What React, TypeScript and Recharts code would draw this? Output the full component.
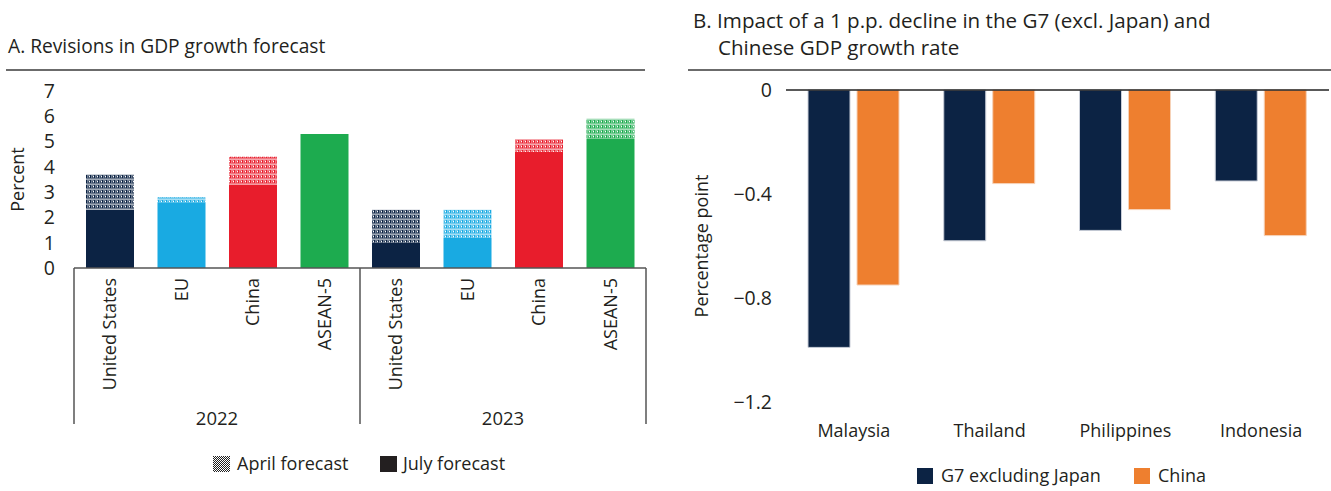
import React from 'react';
import { BarChart, Bar, XAxis, YAxis, Cell, ReferenceLine } from 'recharts';

const FONT = '"Open Sans", "DejaVu Sans", sans-serif';
const TEXT = '#231f20';

// Panel A data
const regionsA = ['United States', 'EU', 'China', 'ASEAN-5', 'United States', 'EU', 'China', 'ASEAN-5'];
const yearsA = ['2022', '2022', '2022', '2022', '2023', '2023', '2023', '2023'];
const julyForecast = [2.3, 2.6, 3.3, 5.3, 1.0, 1.2, 4.6, 5.1];
const aprilForecast = [3.7, 2.8, 4.4, 5.3, 2.3, 2.3, 5.1, 5.9];
const yTicksA = [0, 1, 2, 3, 4, 5, 6, 7];

// Panel B data
const countriesB = ['Malaysia', 'Thailand', 'Philippines', 'Indonesia'];
const g7Impact = [-0.99, -0.58, -0.54, -0.35];
const chinaImpact = [-0.75, -0.36, -0.46, -0.56];
const yTicksB = [0, -0.4, -0.8, -1.2];

const regionColor: Record<string, string> = {
  'United States': '#0c2344',
  EU: '#19aae2',
  China: '#e81d2c',
  'ASEAN-5': '#1dab4f',
};
const regionKey: Record<string, string> = {
  'United States': 'us',
  EU: 'eu',
  China: 'cn',
  'ASEAN-5': 'as',
};

const dataA = regionsA.map((r, i) => ({
  region: r,
  year: yearsA[i],
  july: julyForecast[i],
  revision: Math.round((aprilForecast[i] - julyForecast[i]) * 100) / 100,
}));

const dataB = countriesB.map((c, i) => ({ country: c, g7: g7Impact[i], china: chinaImpact[i] }));

const A_LEFT = 74;
const A_RIGHT = 646;
const BAND_A = (A_RIGHT - A_LEFT) / dataA.length;

function CatTick(props: any) {
  const { x, y, payload, index } = props;
  const ty = y + 10;
  return (
    <g>
      <text
        x={x}
        y={ty}
        transform={`rotate(-90, ${x}, ${ty})`}
        textAnchor="end"
        dy="0.36em"
        fontSize={18}
        fill={TEXT}
        fontFamily={FONT}
      >
        {payload.value}
      </text>
      {index % 4 === 0 && (
        <line x1={x - BAND_A / 2} x2={x - BAND_A / 2} y1={y} y2={y + 156} stroke="#555" strokeWidth={1.5} />
      )}
      {index === dataA.length - 1 && (
        <line x1={x + BAND_A / 2} x2={x + BAND_A / 2} y1={y} y2={y + 156} stroke="#555" strokeWidth={1.5} />
      )}
    </g>
  );
}

function YearTick(props: any) {
  const { x, y, payload, index } = props;
  if (index % 4 !== 1) return <g />;
  return (
    <text x={x + BAND_A / 2} y={y + 17} textAnchor="middle" fontSize={18.5} fill={TEXT} fontFamily={FONT}>
      {payload.value}
    </text>
  );
}

const fmtB = (v: number) => (v === 0 ? '0' : String(v).replace('-', '\u2212'));

function PatternDefs() {
  const items = Object.keys(regionColor).map((r) => {
    const c = regionColor[r];
    return (
      <pattern key={r} id={`pat-${regionKey[r]}`} width="4" height="5" patternUnits="userSpaceOnUse">
        <rect width="4" height="5" fill="#fff" />
        <rect width="4" height="5" fill={c} fillOpacity={0.6} />
        <rect x="2" y="0" width="1" height="3" fill={c} />
        <rect x="0" y="1" width="1" height="2" fill={c} fillOpacity={0.5} />
        <rect x="1" y="1" width="1" height="1" fill="#fff" />
        <rect x="0" y="4" width="4" height="1" fill="#fff" fillOpacity={0.35} />
      </pattern>
    );
  });
  return (
    <svg width="0" height="0" style={{ position: 'absolute' }}>
      <defs>
        {items}
        <pattern id="pat-legend" width="2" height="2" patternUnits="userSpaceOnUse">
          <rect width="2" height="2" fill="#fff" />
          <rect x="0" y="0" width="1" height="1" fill="#222" />
          <rect x="1" y="1" width="1" height="1" fill="#222" />
        </pattern>
      </defs>
    </svg>
  );
}

const abs = (left: number, top: number, extra: React.CSSProperties = {}): React.CSSProperties => ({
  position: 'absolute',
  left,
  top,
  ...extra,
});

const axisLabelStyle = { textAnchor: 'middle', fontSize: 18, fill: TEXT, fontFamily: FONT } as any;

export default function App() {
  return (
    <div
      style={{
        position: 'fixed',
        left: 0,
        top: 0,
        width: 1331,
        height: 491,
        background: '#fff',
        fontFamily: FONT,
        color: TEXT,
        overflow: 'hidden',
      }}
    >
      <PatternDefs />

      {/* Panel A */}
      <div style={abs(8, 31.5, { fontSize: 19.2, lineHeight: '28px', whiteSpace: 'nowrap' })}>
        A. Revisions in GDP growth forecast
      </div>
      <div style={abs(6, 69, { width: 639, height: 2, background: '#6b6b6b' })} />
      <div style={abs(0, 0)}>
        <BarChart
          width={660}
          height={491}
          data={dataA}
          margin={{ top: 91, right: 660 - A_RIGHT, bottom: 53, left: 0 }}
          barCategoryGap={12}
        >
          <YAxis
            domain={[0, 7]}
            ticks={yTicksA}
            interval={0}
            width={A_LEFT}
            axisLine={false}
            tickLine={false}
            tickMargin={13}
            tick={{ fontSize: 19.5, fill: TEXT, fontFamily: FONT }}
            label={{
              value: 'Percent',
              angle: -90,
              position: 'insideLeft',
              offset: 18,
              style: axisLabelStyle,
            }}
          />
          <XAxis
            xAxisId="cat"
            dataKey="region"
            height={140}
            interval={0}
            tickLine={false}
            tickSize={0}
            tickMargin={0}
            axisLine={{ stroke: '#555', strokeWidth: 1.5 }}
            tick={<CatTick />}
          />
          <XAxis
            xAxisId="year"
            dataKey="year"
            height={30}
            interval={0}
            tickLine={false}
            tickSize={0}
            tickMargin={0}
            axisLine={false}
            tick={<YearTick />}
          />
          <Bar dataKey="july" stackId="a" xAxisId="cat" isAnimationActive={false}>
            {dataA.map((d, i) => (
              <Cell key={i} fill={regionColor[d.region]} />
            ))}
          </Bar>
          <Bar dataKey="revision" stackId="a" xAxisId="cat" isAnimationActive={false}>
            {dataA.map((d, i) => (
              <Cell key={i} fill={`url(#pat-${regionKey[d.region]})`} />
            ))}
          </Bar>
        </BarChart>
      </div>
      {/* Legend A */}
      <svg style={abs(213, 456)} width={17} height={16}>
        <rect width={17} height={16} fill="url(#pat-legend)" />
      </svg>
      <div style={abs(237, 450, { fontSize: 18, lineHeight: '26px', whiteSpace: 'nowrap' })}>April forecast</div>
      <div style={abs(380, 456, { width: 17, height: 16, background: '#231f20' })} />
      <div style={abs(403, 450, { fontSize: 18, lineHeight: '26px', whiteSpace: 'nowrap' })}>July forecast</div>

      {/* Panel B */}
      <div style={abs(693, 6.5, { fontSize: 20.6, lineHeight: '27px', whiteSpace: 'nowrap' })}>
        B. Impact of a 1 p.p. decline in the G7 (excl. Japan) and
      </div>
      <div style={abs(718, 33.5, { fontSize: 20.6, lineHeight: '27px', whiteSpace: 'nowrap' })}>
        Chinese GDP growth rate
      </div>
      <div style={abs(688, 69, { width: 643, height: 2, background: '#6b6b6b' })} />
      <div style={abs(680, 0)}>
        <BarChart
          width={651}
          height={491}
          data={dataB}
          margin={{ top: 90, right: 2, bottom: 39, left: 0 }}
          barCategoryGap={22}
          barGap={7}
        >
          <YAxis
            domain={[-1.2, 0]}
            ticks={yTicksB}
            interval={0}
            width={106}
            axisLine={false}
            tickLine={false}
            tickMargin={8}
            tickFormatter={fmtB}
            tick={{ fontSize: 19.5, fill: TEXT, fontFamily: FONT }}
            label={{
              value: 'Percentage point',
              angle: -90,
              position: 'insideLeft',
              offset: 22,
              style: axisLabelStyle,
            }}
          />
          <XAxis
            dataKey="country"
            height={50}
            interval={0}
            axisLine={false}
            tickLine={false}
            tickMargin={16}
            tick={{ fontSize: 18, fill: TEXT, fontFamily: FONT }}
          />
          <Bar dataKey="g7" fill="#0c2344" stroke="#c9ced8" strokeWidth={1} isAnimationActive={false} />
          <Bar dataKey="china" fill="#ee7f2f" stroke="#f6d2b8" strokeWidth={1} isAnimationActive={false} />
          <ReferenceLine y={0} stroke="#222" strokeWidth={1.5} />
        </BarChart>
      </div>
      {/* Legend B */}
      <div style={abs(917, 468, { width: 16, height: 16, background: '#0c2344' })} />
      <div style={abs(941, 462, { fontSize: 18, lineHeight: '26px', whiteSpace: 'nowrap' })}>G7 excluding Japan</div>
      <div style={abs(1134, 468, { width: 16, height: 16, background: '#ee7f2f' })} />
      <div style={abs(1158, 462, { fontSize: 18, lineHeight: '26px', whiteSpace: 'nowrap' })}>China</div>
    </div>
  );
}
